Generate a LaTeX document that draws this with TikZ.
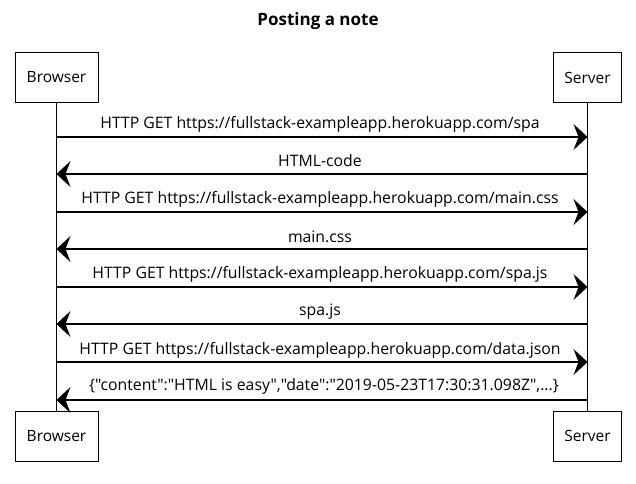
\documentclass[tikz,border=0pt]{standalone}
\usepackage{fontspec}
\setmainfont{Open Sans}[Ligatures=TeXOff]
\usetikzlibrary{arrows.meta}
\begin{document}
\begin{tikzpicture}[x=1pt,y=-1pt,
 actor/.style={draw, line width=0.8pt, minimum height=50pt, inner sep=0pt, font=\fontsize{15.5}{17}\selectfont},
 life/.style={line width=0.8pt},
 msg/.style={line width=1.3pt, -{Stealth[length=14pt,width=26pt,inset=5pt]}},
 lbl/.style={font=\fontsize{15.8}{17}\selectfont, inner sep=0pt}]
\useasboundingbox (0,0) rectangle (636,483);
\node[font=\fontsize{17}{19}\selectfont\bfseries] (title) at (318,21) {Posting a note};
\node[actor, minimum width=83pt] (bt) at (56.5,77.5) {Browser};
\node[actor, minimum width=68pt] (st) at (587.5,77.5) {Server};
\node[actor, minimum width=83pt] (bb) at (56.5,436) {Browser};
\node[actor, minimum width=68pt] (sb) at (587.5,436) {Server};
\draw[life] (bt.south) -- (bb.north);
\draw[life] (st.south) -- (sb.north);
\foreach \i/\y in {1/137,2/174,3/212,4/249,5/287,6/324,7/362,8/400}{
  \coordinate (b\i) at (56.5,\y);
  \coordinate (s\i) at (587.5,\y);
}
\draw[msg] (b1) -- (s1);
\draw[msg] (s2) -- (b2);
\draw[msg] (b3) -- (s3);
\draw[msg] (s4) -- (b4);
\draw[msg] (b5) -- (s5);
\draw[msg] (s6) -- (b6);
\draw[msg] (b7) -- (s7);
\draw[msg] (s8) -- (b8);
\node[lbl] (l1) at (320,124) {HTTP GET https://fullstack-exampleapp.herokuapp.com/spa};
\node[lbl] (l2) at (320,161) {HTML-code};
\node[lbl] (l3) at (320,199) {HTTP GET https://fullstack-exampleapp.herokuapp.com/main.css};
\node[lbl] (l4) at (320,237) {main.css};
\node[lbl] (l5) at (320,274) {HTTP GET https://fullstack-exampleapp.herokuapp.com/spa.js};
\node[lbl] (l6) at (320,312) {spa.js};
\node[lbl] (l7) at (320,350) {HTTP GET https://fullstack-exampleapp.herokuapp.com/data.json};
\node[lbl] (l8) at (324,386) {\{"content":"HTML is easy","date":"2019-05-23T17:30:31.098Z",...\}};
\end{tikzpicture}
\end{document}
